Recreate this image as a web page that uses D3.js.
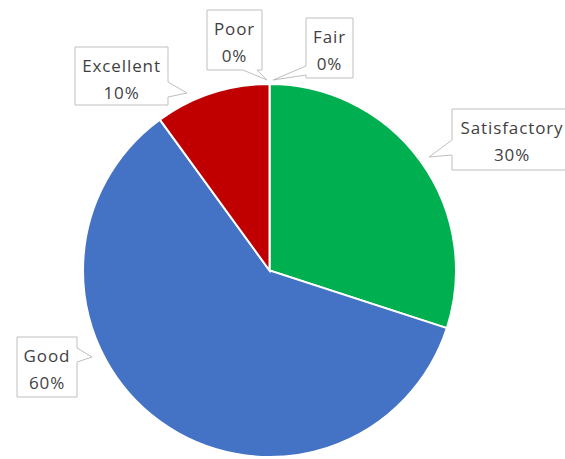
<!DOCTYPE html>
<html><head><meta charset="utf-8">
<script src="https://cdn.jsdelivr.net/npm/d3@7"></script>
<style>html,body{margin:0;padding:0;background:#fff;overflow:hidden;}</style>
</head><body>
<svg id="chart" width="565" height="459"></svg>
<script>
const categories = ["Poor", "Fair", "Satisfactory", "Good", "Excellent"];
const values = [0, 0, 30, 60, 10];
const colors = ["#ED7D31", "#A5A5A5", "#00B050", "#4472C4", "#C00000"];

// callout layout (box x,y,w,h; pointer side; base start/end along side; tip)
const callouts = {
  "Poor":         {x:207, y:10,  w:55,  h:60, side:"bottom", a:243, b:257, tx:267, ty:80},
  "Fair":         {x:306, y:18,  w:47,  h:60, side:"left",   a:66,  b:75,  tx:273, ty:80},
  "Satisfactory": {x:452, y:109, w:120, h:61, side:"left",   a:140, b:155, tx:429, ty:157},
  "Good":         {x:17,  y:337, w:60,  h:60, side:"right",  a:348, b:362, tx:92,  ty:357},
  "Excellent":    {x:75,  y:47,  w:93,  h:58, side:"right",  a:82,  b:97,  tx:187, ty:93}
};

const svg = d3.select("#chart");
const cx = 269.5, cy = 270.5, r = 186.5;

const pie = d3.pie().sort(null).value(d => d.v);
const data = categories.map((c, i) => ({c, v: values[i], col: colors[i]}));
const arcs = pie(data);
const arc = d3.arc().innerRadius(0).outerRadius(r);

const g = svg.append("g").attr("transform", `translate(${cx},${cy})`);
g.selectAll("path").data(arcs).join("path")
  .attr("d", arc)
  .attr("fill", d => d.data.col)
  .attr("stroke", "#fff")
  .attr("stroke-width", d => d.data.v > 0 ? 2 : 0);

function calloutPath(o) {
  const x0 = o.x, y0 = o.y, x1 = o.x + o.w, y1 = o.y + o.h;
  const p = d3.path();
  p.moveTo(x0, y0);
  p.lineTo(x1, y0);
  if (o.side === "right") { p.lineTo(x1, o.a); p.lineTo(o.tx, o.ty); p.lineTo(x1, o.b); }
  p.lineTo(x1, y1);
  if (o.side === "bottom") { p.lineTo(o.b, y1); p.lineTo(o.tx, o.ty); p.lineTo(o.a, y1); }
  p.lineTo(x0, y1);
  if (o.side === "left") { p.lineTo(x0, o.b); p.lineTo(o.tx, o.ty); p.lineTo(x0, o.a); }
  p.closePath();
  return p.toString();
}

const fmt = d3.format(".0%");
const lab = svg.append("g");
data.forEach(d => {
  const o = callouts[d.c];
  const grp = lab.append("g");
  grp.append("path").attr("d", calloutPath(o))
    .attr("fill", "#fff").attr("stroke", "#BFBFBF").attr("stroke-width", 1);
  const tx = d.c === "Satisfactory" ? o.x + 60 : o.x + o.w / 2;
  const t = grp.append("text")
    .attr("font-family", "'Open Sans', sans-serif")
    .attr("font-size", 17)
    .attr("letter-spacing", "0.9px")
    .attr("fill", "#3F3F3F")
    .attr("text-anchor", "middle");
  t.append("tspan").attr("x", tx).attr("y", o.y + 25).text(d.c);
  t.append("tspan").attr("x", tx).attr("y", o.y + 52).text(fmt(d.v / 100));
});
</script>
</body></html>
